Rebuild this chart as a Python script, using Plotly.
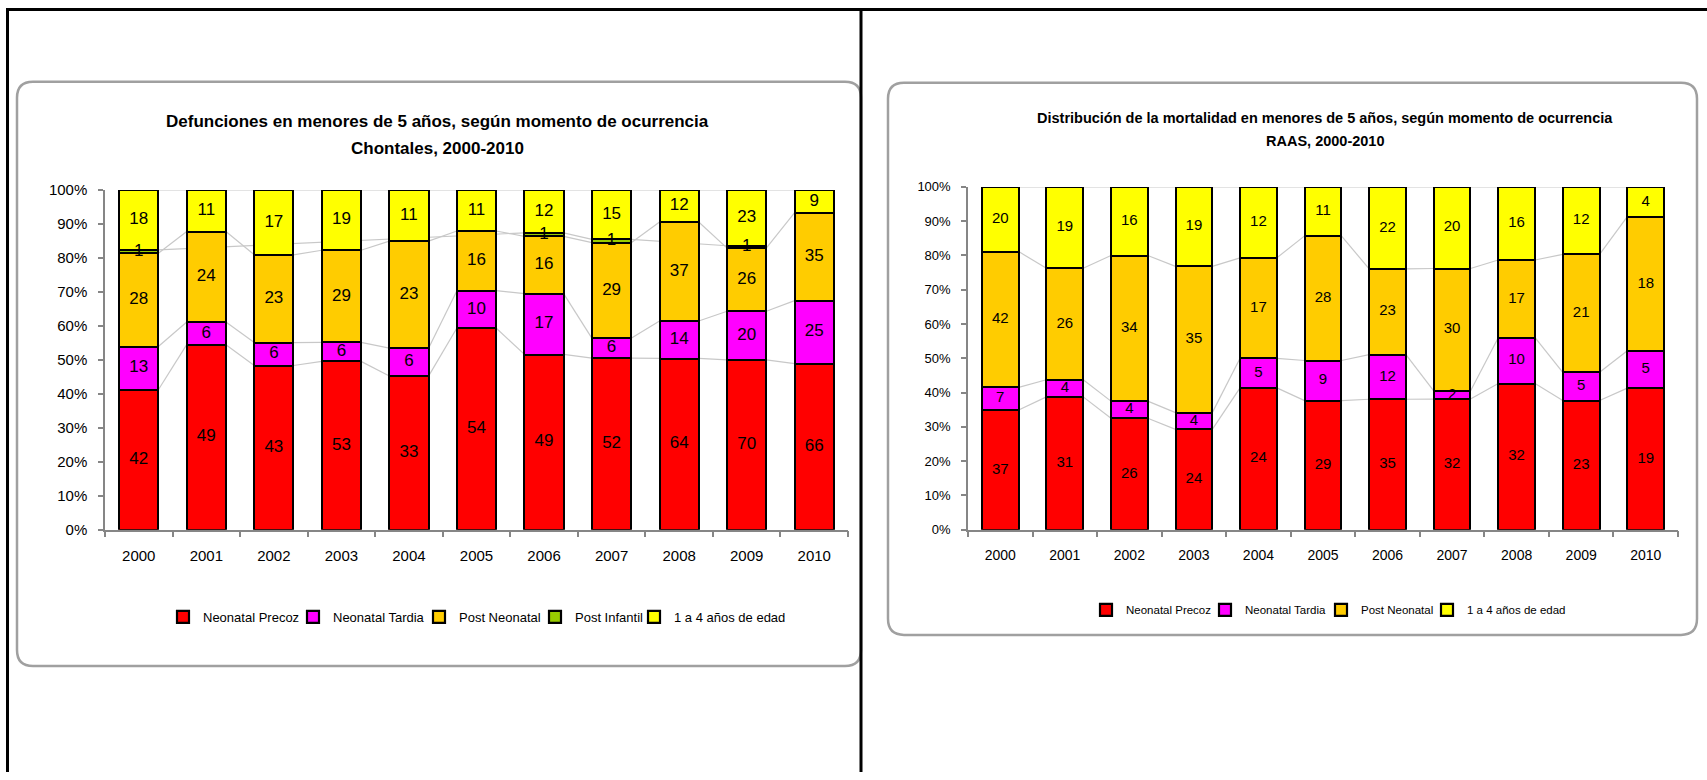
import plotly.graph_objects as go

W, H = 1707, 780

years = ["2000", "2001", "2002", "2003", "2004", "2005", "2006", "2007", "2008", "2009", "2010"]
pct_ticks = [0, 10, 20, 30, 40, 50, 60, 70, 80, 90, 100]
pct_labels = ["0%", "10%", "20%", "30%", "40%", "50%", "60%", "70%", "80%", "90%", "100%"]

# Chontales (counts)
ch_names = ["Neonatal Precoz", "Neonatal Tardia", "Post Neonatal", "Post Infantil", "1 a 4 años de edad"]
ch_precoz = [42, 49, 43, 53, 33, 54, 49, 52, 64, 70, 66]
ch_tardia = [13, 6, 6, 6, 6, 10, 17, 6, 14, 20, 25]
ch_postneo = [28, 24, 23, 29, 23, 16, 16, 29, 37, 26, 35]
ch_postinf = [1, None, None, None, None, None, 1, 1, None, 1, None]
ch_1a4 = [18, 11, 17, 19, 11, 11, 12, 15, 12, 23, 9]

# RAAS (counts)
ra_names = ["Neonatal Precoz", "Neonatal Tardia", "Post Neonatal", "1 a 4 años de edad"]
ra_precoz = [37, 31, 26, 24, 24, 29, 35, 32, 32, 23, 19]
ra_tardia = [7, 4, 4, 4, 5, 9, 12, 2, 10, 5, 5]
ra_postneo = [42, 26, 34, 35, 17, 28, 23, 30, 17, 21, 18]
ra_1a4 = [20, 19, 16, 19, 12, 11, 22, 20, 16, 12, 4]

ch_colors = ["#FF0000", "#FF00FF", "#FFCC00", "#99CC00", "#FFFF00"]
ra_colors = ["#FF0000", "#FF00FF", "#FFCC00", "#FFFF00"]

FONT = "Liberation Sans, Arial, sans-serif"
AXIS_COL = "#868686"
SER_LINE = "#c8c8c8"

# legend entry widths (px) so that the keys sit where the reference has them
ch_legend_w = [85, 81, 71, 54, 120]
ra_legend_w = [74, 71, 61, 105]

# the page is shown with a small vertical offset/compression; compensate
V_OFF, V_SCALE = 9.5, 0.976


def px_x(px):
    return px / W


def px_y(py):
    y = (py - V_OFF) / V_SCALE
    return 1 - y / H


fig = go.Figure()
shapes = []


def add_chart(series, names, colors, xa, ya, legend, bar_w, txt_size, lw):
    n = len(years)
    xs = list(range(n))
    totals = [sum(s[i] for s in series if s[i] is not None) for i in range(n)]
    base = [0.0] * n
    tops_all = []
    lab_x, lab_y, lab_t = [], [], []
    for s, name, col, w in zip(series, names, colors, lw):
        pct = [None if s[i] is None else s[i] / totals[i] * 100 for i in range(n)]
        fig.add_trace(go.Bar(
            x=xs, y=pct, width=bar_w, name=name,
            marker=dict(color=col, line=dict(color="black", width=2.2)),
            xaxis=xa, yaxis=ya, legend=legend, legendwidth=w, cliponaxis=False,
            hovertemplate=name + ": %{customdata}<extra></extra>",
            customdata=s,
        ))
        tops = []
        for i in range(n):
            if pct[i] is None:
                continue
            lab_x.append(i)
            lab_y.append(base[i] + pct[i] / 2)
            lab_t.append(str(s[i]))
            base[i] += pct[i]
            tops.append((i, base[i]))
        tops_all.append(tops)
    fig.add_trace(go.Scatter(
        x=lab_x, y=lab_y, text=lab_t, mode="text",
        textfont=dict(family=FONT, size=txt_size, color="black"),
        xaxis=xa, yaxis=ya, showlegend=False, hoverinfo="skip", cliponaxis=False,
    ))
    # Excel-style series lines between adjacent bars (drawn behind the bars)
    for tops in tops_all:
        for (i0, y0), (i1, y1) in zip(tops[:-1], tops[1:]):
            shapes.append(dict(
                type="line", xref=xa, yref=ya, layer="below",
                x0=i0 + bar_w / 2, y0=y0, x1=i1 - bar_w / 2, y1=y1,
                line=dict(color=SER_LINE, width=1.2),
            ))


add_chart([ch_precoz, ch_tardia, ch_postneo, ch_postinf, ch_1a4], ch_names, ch_colors,
          "x", "y", "legend", 0.58, 17, ch_legend_w)
add_chart([ra_precoz, ra_tardia, ra_postneo, ra_1a4], ra_names, ra_colors,
          "x2", "y2", "legend2", 0.57, 15, ra_legend_w)


def xaxis_cfg(dom, fsize, standoff, anchor):
    return dict(
        domain=dom, range=[-0.5, 10.5], tickmode="array",
        tickvals=list(range(len(years))), ticktext=years, ticks="",
        showline=True, linecolor=AXIS_COL, linewidth=1.5, showgrid=False, zeroline=False,
        tickfont=dict(family=FONT, size=fsize, color="black"),
        ticklabelstandoff=standoff, anchor=anchor,
        minor=dict(tickmode="array", tickvals=[i - 0.5 for i in range(len(years) + 1)],
                   ticks="outside", ticklen=6, tickcolor=AXIS_COL, tickwidth=1.5, showgrid=False),
        fixedrange=True,
    )


def yaxis_cfg(dom, fsize, anchor):
    return dict(
        domain=dom, range=[0, 100], tickmode="array", tickvals=pct_ticks, ticktext=pct_labels,
        ticks="outside", ticklen=5, tickcolor=AXIS_COL, tickwidth=1.5,
        showline=True, linecolor=AXIS_COL, linewidth=1.5, showgrid=False, zeroline=False,
        tickfont=dict(family=FONT, size=fsize, color="black"), anchor=anchor,
        ticklabelstandoff=8, fixedrange=True,
    )


def rounded_box(x0, y0, x1, y1, r):
    def P(x, y):
        return f"{px_x(x):.5f},{px_y(y):.5f}"
    return (f"M {P(x0 + r, y0)} L {P(x1 - r, y0)} Q {P(x1, y0)} {P(x1, y0 + r)} "
            f"L {P(x1, y1 - r)} Q {P(x1, y1)} {P(x1 - r, y1)} "
            f"L {P(x0 + r, y1)} Q {P(x0, y1)} {P(x0, y1 - r)} "
            f"L {P(x0, y0 + r)} Q {P(x0, y0)} {P(x0 + r, y0)} Z")


box_shapes = [
    dict(type="path", xref="paper", yref="paper", layer="below",
         path=rounded_box(17, 82, 861, 665, 16), line=dict(color="#a0a0a0", width=2.5)),
    dict(type="path", xref="paper", yref="paper", layer="below",
         path=rounded_box(888, 83, 1697, 634, 16), line=dict(color="#a0a0a0", width=2.5)),
]
border_shapes = [
    dict(type="line", xref="paper", yref="paper", x0=px_x(6), x1=1.0, y0=px_y(10), y1=px_y(10),
         line=dict(color="black", width=3), layer="above"),
    dict(type="line", xref="paper", yref="paper", x0=px_x(7.5), x1=px_x(7.5), y0=px_y(10), y1=0,
         line=dict(color="black", width=3), layer="above"),
    dict(type="line", xref="paper", yref="paper", x0=px_x(861), x1=px_x(861), y0=px_y(10), y1=0,
         line=dict(color="black", width=3), layer="above"),
]


def title(text, x, y, size):
    return dict(text="<b>" + text + "</b>", x=px_x(x), y=px_y(y), xref="paper", yref="paper",
                showarrow=False, xanchor="center", yanchor="middle",
                font=dict(family=FONT, size=size, color="black"))


annotations = [
    title("Defunciones en menores de 5 años, según momento de ocurrencia", 437, 122, 17),
    title("Chontales, 2000-2010", 437, 149, 17),
    title("Distribución de la mortalidad en menores de 5 años, según momento de ocurrencia", 1325, 118, 14.5),
    title("RAAS, 2000-2010", 1325, 141, 14.5),
]

fig.update_layout(
    width=W, height=H, autosize=False,
    margin=dict(l=0, r=0, t=0, b=0),
    paper_bgcolor="white", plot_bgcolor="rgba(0,0,0,0)",
    barmode="stack", bargap=0,
    xaxis=xaxis_cfg([px_x(105), px_x(848)], 15, 12, "y"),
    yaxis=yaxis_cfg([px_y(529), px_y(190)], 15, "x"),
    xaxis2=xaxis_cfg([px_x(968), px_x(1678)], 14, 12, "y2"),
    yaxis2=yaxis_cfg([px_y(529), px_y(187)], 13, "x2"),
    legend=dict(orientation="h", x=px_x(163), y=px_y(616), xanchor="left", yanchor="middle",
                font=dict(family=FONT, size=13, color="black"), itemwidth=30,
                bgcolor="rgba(0,0,0,0)", traceorder="normal"),
    legend2=dict(orientation="h", x=px_x(1086), y=px_y(609), xanchor="left", yanchor="middle",
                 font=dict(family=FONT, size=11.5, color="black"), itemwidth=30,
                 bgcolor="rgba(0,0,0,0)", traceorder="normal"),
    shapes=box_shapes + shapes + border_shapes,
    annotations=annotations,
    showlegend=True,
)

fig.write_html("out.html")
